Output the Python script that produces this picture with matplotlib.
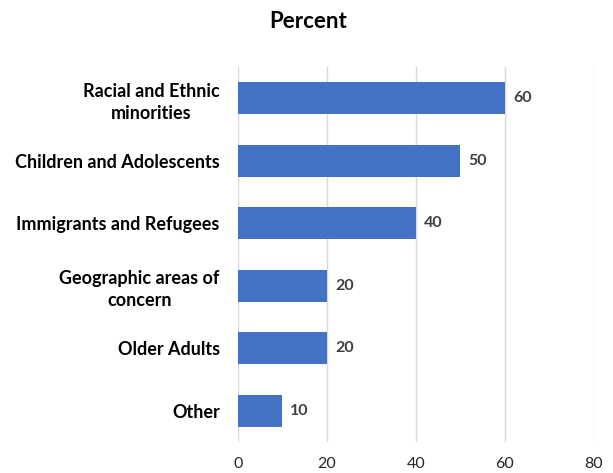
import matplotlib
matplotlib.use("Agg")
import matplotlib.pyplot as plt

# data
categories = ["Racial and Ethnic\nminorities", "Children and Adolescents",
              "Immigrants and Refugees", "Geographic areas of\nconcern",
              "Older Adults", "Other"]
percent = [60, 50, 40, 20, 20, 10]
xticks = [0, 20, 40, 60, 80]

plt.rcParams['font.family'] = ['Lato', 'DejaVu Sans']

fig = plt.figure(figsize=(6.13, 4.73), dpi=100)
ax = fig.add_axes([0.388, 0.0655, 0.581, 0.7925])

y = list(range(len(categories)))
ax.barh(y, percent, height=0.51, color="#4472C4", zorder=3)
for yi, v in zip(y, percent):
    ax.text(v + 1.8, yi, str(v), va="center", ha="left", fontsize=11.5,
            fontweight="bold", color="#404040")

ax.set_ylim(len(categories) - 0.5, -0.5)
ax.set_xlim(0, 80)
ax.set_xticks(xticks)
ax.set_yticks(y)
ax.set_yticklabels(categories, fontsize=13, fontweight="bold", ha="right",
                   multialignment="center", linespacing=1.35)
ax.tick_params(axis="y", length=0, pad=13)
ax.tick_params(axis="x", length=0, labelsize=11.5, labelcolor="#262626", pad=11)
ax.grid(axis="x", color="#D9D9D9", lw=1, zorder=0)
for s in ax.spines.values():
    s.set_visible(False)

fig.text(0.503, 0.955, "Percent", ha="center", va="center", fontsize=16,
         fontweight="bold")

fig.savefig("out.png", dpi=100)
